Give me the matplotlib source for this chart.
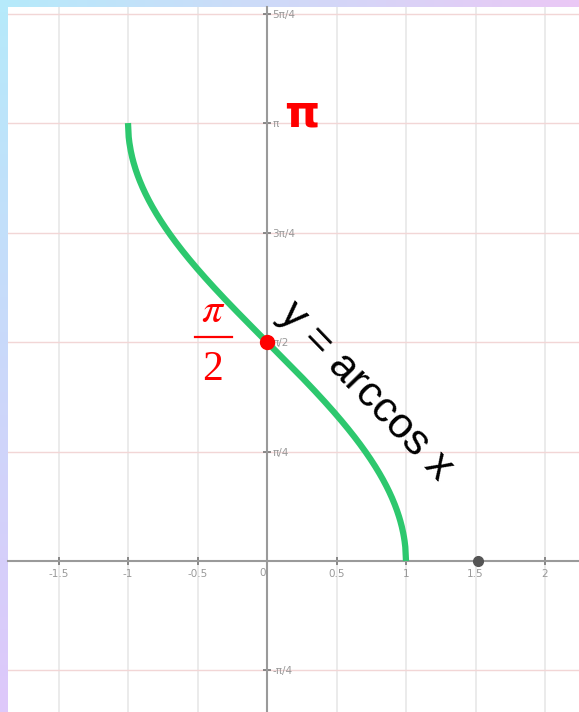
import numpy as np
import matplotlib
matplotlib.use("Agg")
from matplotlib import pyplot as plt

plt.rcParams["mathtext.fontset"] = "stix"

# curve samples and tick setup
x_curve = np.linspace(-1, 1, 400)
y_curve = np.arccos(x_curve)
x_ticks = [-1.5, -1, -0.5, 0.5, 1, 1.5, 2]
x_labels = ["-1.5", "-1", "-0.5", "0.5", "1", "1.5", "2"]
y_ticks = [-np.pi / 4, np.pi / 4, np.pi / 2, 3 * np.pi / 4, np.pi, 5 * np.pi / 4]
y_labels = ["-π/4", "π/4", "π/2", "3π/4", "π", "5π/4"]
mid_point = (0, np.pi / 2)
grey_point = (1.52, 0)

W, H = 579, 712
fig = plt.figure(figsize=(W / 100, H / 100), dpi=100)

# pastel gradient frame behind everything
bg = fig.add_axes([0, 0, 1, 1])
tl = np.array([182, 234, 251]) / 255
tr = np.array([234, 200, 245]) / 255
bl = np.array([222, 200, 250]) / 255
br = np.array([232, 205, 248]) / 255
u = np.linspace(0, 1, 60)[None, :, None]
v = np.linspace(0, 1, 60)[:, None, None]
grad = (1 - v) * ((1 - u) * tl + u * tr) + v * ((1 - u) * bl + u * br)
bg.imshow(grad, aspect="auto", extent=[0, 1, 0, 1])
bg.axis("off")

left, top = 8, 7
ax = fig.add_axes([left / W, 0, (W - left) / W, (H - top) / H])
ax.set_facecolor("white")

# pixel scale: x 0 at 267, 139 px per unit; y 0 at 561, 139.4 px per unit
ax.set_xlim((left - 267) / 139, (W - 267) / 139)
ax.set_ylim((561 - H) / 139.4, (561 - top) / 139.4)

for s in ["top", "left"]:
    ax.spines[s].set_visible(False)
ax.spines["bottom"].set_position(("data", 0))
ax.spines["right"].set_position(("data", 0))
for s in ["bottom", "right"]:
    ax.spines[s].set_color("#9a9a9a")
    ax.spines[s].set_linewidth(1.5)
    ax.spines[s].set_zorder(2)

ax.yaxis.tick_right()
ax.set_xticks(x_ticks, x_labels)
ax.set_yticks(y_ticks, y_labels)
ax.tick_params(axis="both", direction="inout", length=6, width=1.2,
               color="#777777", labelcolor="#999999", labelsize=7.5)
ax.tick_params(axis="x", pad=3)
ax.tick_params(axis="y", pad=1)
ax.xaxis.grid(True, color="#e8e8e8", linewidth=1.2)
ax.yaxis.grid(True, color="#f2d6d6", linewidth=1.0)
ax.set_axisbelow(True)
ax.text(-0.03, -0.05, "0", color="#999999", fontsize=7.5, ha="center", va="top")

ax.plot(x_curve, y_curve, color="#2dc86e", linewidth=4.5, solid_capstyle="butt", zorder=3)
ax.plot(*mid_point, "o", color="red", markersize=10, zorder=4)
ax.plot(*grey_point, "o", color="#555555", markersize=7, zorder=4)

ax.text(0.252, 3.21, "π", color="red", fontsize=32, fontweight="bold",
        ha="center", va="center", family="DejaVu Sans")
ax.text(-0.39, 1.80, r"$\pi$", color="red", fontsize=30,
        ha="center", va="center")
ax.plot([-0.518, -0.252], [1.607, 1.607], color="red", linewidth=1.6)
ax.text(-0.39, 1.37, "2", color="red", fontsize=30,
        ha="center", va="center", family="Liberation Serif")
ax.text(0.71, 1.215, "y = arccos x", color="black", fontsize=31, rotation=-46,
        rotation_mode="anchor", ha="center", va="center", family="Liberation Sans")

fig.savefig("out.png", dpi=100)
